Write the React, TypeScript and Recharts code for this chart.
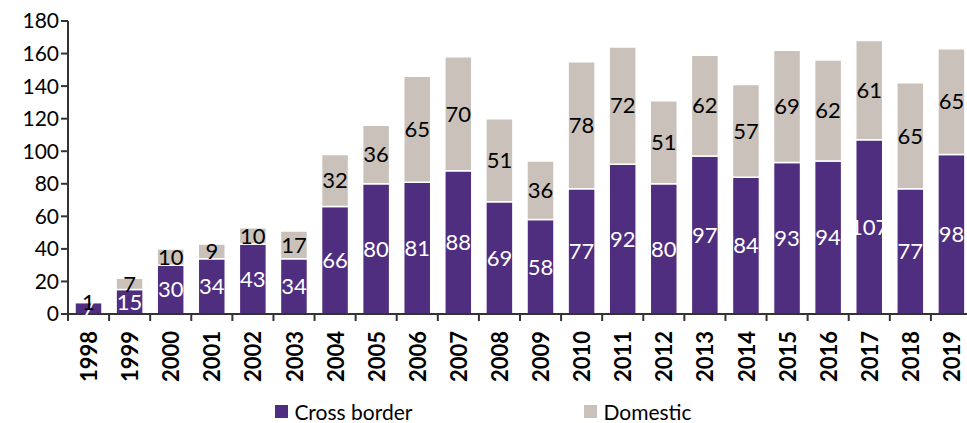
import React from 'react';
import { BarChart, Bar, XAxis, YAxis, LabelList } from 'recharts';

const years = ['1998', '1999', '2000', '2001', '2002', '2003', '2004', '2005', '2006', '2007', '2008', '2009', '2010', '2011', '2012', '2013', '2014', '2015', '2016', '2017', '2018', '2019'];
const crossBorder = [7, 15, 30, 34, 43, 34, 66, 80, 81, 88, 69, 58, 77, 92, 80, 97, 84, 93, 94, 107, 77, 98];
const domestic = [1, 7, 10, 9, 10, 17, 32, 36, 65, 70, 51, 36, 78, 72, 51, 62, 57, 69, 62, 61, 65, 65];
const yTicks = [0, 20, 40, 60, 80, 100, 120, 140, 160, 180];

const PURPLE = '#4f2d7f';
const GREY = '#cac2ba';
const AXIS = '#333333';
const FONT = 'Lato, "Noto Sans", sans-serif';

const data = years.map((year, i) => ({
  year,
  cross: crossBorder[i],
  domestic: domestic[i],
}));

// category ticks: label rotated, tick mark sits on the band boundary
const YearTick = (props: any) => {
  const { x, y, payload, index } = props;
  const half = payload.offset || 0;
  return (
    <g>
      <line x1={x - half} x2={x - half} y1={y - 8} y2={y - 1} stroke={AXIS} strokeWidth={2} />
      {index === years.length - 1 && (
        <line x1={x + half} x2={x + half} y1={y - 8} y2={y - 1} stroke={AXIS} strokeWidth={2} />
      )}
      <text
        x={x}
        y={y + 9}
        transform={`rotate(-90, ${x}, ${y + 9})`}
        textAnchor="end"
        dominantBaseline="central"
        fontSize={22}
        fontWeight={700}
        fontFamily={FONT}
        fill="#000"
      >
        {payload.value}
      </text>
    </g>
  );
};

const LegendContent = () => (
  <div style={{ display: 'flex', justifyContent: 'center', gap: 172, fontFamily: FONT, fontSize: 21, color: '#000' }}>
    {[
      { name: 'Cross border', color: PURPLE },
      { name: 'Domestic', color: GREY },
    ].map((item) => (
      <div key={item.name} style={{ display: 'flex', alignItems: 'center' }}>
        <span style={{ display: 'inline-block', width: 13, height: 13, background: item.color, marginRight: 6 }} />
        {item.name}
      </div>
    ))}
  </div>
);

export default function App() {
  return (
    <div style={{ position: 'absolute', left: 0, top: 0, width: 967, height: 423, overflow: 'hidden', background: '#fff' }}>
      <BarChart
        width={972}
        height={423}
        data={data}
        margin={{ top: 21, right: 0, left: 8, bottom: 33 }}
        barSize={27}
      >
        <XAxis
          dataKey="year"
          axisLine={{ stroke: AXIS, strokeWidth: 2 }}
          tickLine={false}
          tick={<YearTick />}
          interval={0}
          height={76}
        />
        <YAxis
          domain={[0, 180]}
          ticks={yTicks}
          width={60}
          axisLine={{ stroke: AXIS, strokeWidth: 2 }}
          tickLine={{ stroke: AXIS, strokeWidth: 2 }}
          tickSize={7}
          tick={{ fill: '#000', fontSize: 21, fontFamily: FONT }}
        />
        <Bar dataKey="cross" stackId="a" fill={PURPLE} stroke="#fff" strokeWidth={1.5} isAnimationActive={false}>
          <LabelList dataKey="cross" position="center" fill="#fff" fontSize={22} fontFamily={FONT} />
        </Bar>
        <Bar dataKey="domestic" stackId="a" fill={GREY} stroke="#fff" strokeWidth={1.5} isAnimationActive={false}>
          <LabelList dataKey="domestic" position="center" fill="#000" fontSize={22} fontFamily={FONT} />
        </Bar>
        {/* legend drawn below the axis */}
        <foreignObject x={0} y={399} width={967} height={24}>
          <LegendContent />
        </foreignObject>
      </BarChart>
    </div>
  );
}
